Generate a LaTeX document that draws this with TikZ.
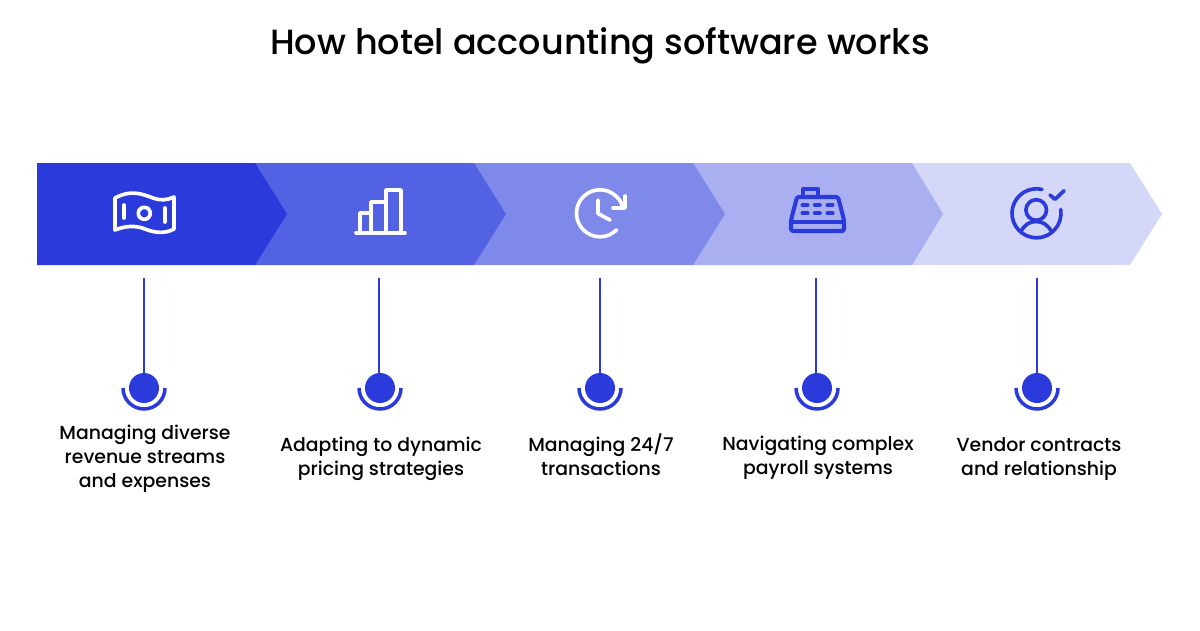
\documentclass[tikz,border=0pt]{standalone}
\usepackage{fontspec}
\setmainfont{Poppins Medium}
\usetikzlibrary{positioning}
\usetikzlibrary{calc}
\definecolor{blueA}{HTML}{2A3ADB}
\definecolor{blueB}{HTML}{5262E3}
\definecolor{blueC}{HTML}{7F89EA}
\definecolor{blueD}{HTML}{A9AFF0}
\definecolor{blueE}{HTML}{D4D7F8}

\begin{document}
\begin{tikzpicture}[x=0.025cm, y=-0.025cm,
        dot/.style={circle, fill=blueA, inner sep=0pt, minimum size=0.75cm},
        stem/.style={draw=blueA, line width=1.4pt},
        cup/.style={draw=blueA, line width=2.5pt},
        lbl/.style={align=center, inner sep=0pt, font=\fontsize{13.4}{17.07}\selectfont},
        icon/.style={line width=2.6pt, line cap=round, line join=round}]
    \useasboundingbox (0, 0) rectangle (1200, 630);

    \node[font=\fontsize{24.9}{30}\selectfont, inner sep=0pt] (title) at (600, 46) {How hotel accounting software works};

    \fill[blueE] (912, 163) -- (1130, 163) -- (1162, 214) -- (1130, 265) -- (912, 265) -- cycle;
    \fill[blueD] (693, 163) -- (912, 163) -- (943, 214) -- (912, 265) -- (693, 265) -- cycle;
    \fill[blueC] (474, 163) -- (693, 163) -- (725, 214) -- (693, 265) -- (474, 265) -- cycle;
    \fill[blueB] (255, 163) -- (474, 163) -- (506, 214) -- (474, 265) -- (255, 265) -- cycle;
    \fill[blueA] (37, 163) -- (255, 163) -- (287, 214) -- (255, 265) -- (37, 265) -- cycle;

    % banknote
    \draw[icon, white] (115, 198) .. controls (130, 190) and (140, 193) .. (153, 198) .. controls (160, 201) and (168, 200) .. (174, 197) -- (174, 229) .. controls (165, 234) and (155, 233) .. (145, 229) .. controls (135, 225) and (125, 226) .. (115, 230) -- cycle;
    \draw[icon, white] (144.3, 213.3) circle (6);
    \draw[icon, white] (123.7, 205) -- (123.7, 218);
    \draw[icon, white] (164.7, 208) -- (164.7, 222);

    % bars
    \draw[icon, white] (356, 233) -- (405, 233);
    \draw[icon, white] (360, 233) -- (360, 213) -- (371, 213) -- (371, 233);
    \draw[icon, white] (371, 213) -- (371, 202) -- (386, 202) -- (386, 233);
    \draw[icon, white] (386, 202) -- (386, 190) -- (401, 190) -- (401, 233);

    % clock
    \draw[icon, white] (616.6, 229.9) arc[start angle=45, end angle=345, radius=23.5];
    \draw[icon, white] (625, 196) -- (625, 208) -- (613, 208);
    \draw[icon, white] (598, 200) -- (598, 213.5) -- (610, 220);

    % register
    \draw[icon, blueA, line width=2.9pt] (803, 195) -- (803, 189) -- (818, 189) -- (818, 195);
    \draw[icon, blueA, line width=2.9pt, rounded corners=1.5pt] (797, 197) -- (838, 197) -- (844, 220) -- (844, 231) -- (791, 231) -- (791, 220) -- cycle;
    \draw[icon, blueA, line width=2.9pt] (791, 222) -- (844, 222);
    \foreach \kx in {805, 817.3, 830} {
        \draw[icon, blueA, line width=2.9pt] (\kx-2.5, 205) -- (\kx+2.5, 205);
        \draw[icon, blueA, line width=2.9pt] (\kx-2.5, 213.3) -- (\kx+2.5, 213.3);
    }

    % person
    \draw[icon, blueA] (1042, 189.4) arc[start angle=283, end angle=-9, radius=24.5];
    \draw[icon, blueA] (1036.2, 210) circle (10.3);
    \draw[icon, blueA] (1020.7, 231.7) .. controls (1025, 224) and (1030, 221.5) .. (1036, 221.5) .. controls (1042, 221.5) and (1047, 224) .. (1051.7, 231.7);
    \draw[icon, blueA] (1050, 195) -- (1055, 199.3) -- (1064, 190.7);

    \coordinate (topa) at (144, 278);
    \coordinate (topb) at (379, 278);
    \coordinate (topc) at (600, 278);
    \coordinate (topd) at (816, 278);
    \coordinate (tope) at (1037, 278);

    \node[dot] (dota) at (144, 388) {};
    \node[dot] (dotb) at (380, 388) {};
    \node[dot] (dotc) at (600, 388) {};
    \node[dot] (dotd) at (817, 388) {};
    \node[dot] (dote) at (1037, 388) {};

    \draw[stem] (topa) -- (topa |- dota.north);
    \draw[stem] (topb) -- (topb |- dotb.north);
    \draw[stem] (topc) -- (topc |- dotc.north);
    \draw[stem] (topd) -- (topd |- dotd.north);
    \draw[stem] (tope) -- (tope |- dote.north);

    \foreach \d in {dota, dotb, dotc, dotd, dote} {
        \draw[cup] ($(\d.center)+(-21, 0)$) arc[start angle=180, end angle=0, radius=21];
    }

    \node[lbl] (lbla) at (145, 459) {Managing diverse\\revenue streams\\and expenses};
    \node[lbl] (lblb) at (381, 459) {Adapting to dynamic\\pricing strategies};
    \node[lbl] (lblc) at (601, 455) {Managing 24/7\\transactions};
    \node[lbl] (lbld) at (818, 458) {Navigating complex\\payroll systems};
    \node[lbl] (lble) at (1039, 458.5) {Vendor contracts\\and relationship};
\end{tikzpicture}
\end{document}
